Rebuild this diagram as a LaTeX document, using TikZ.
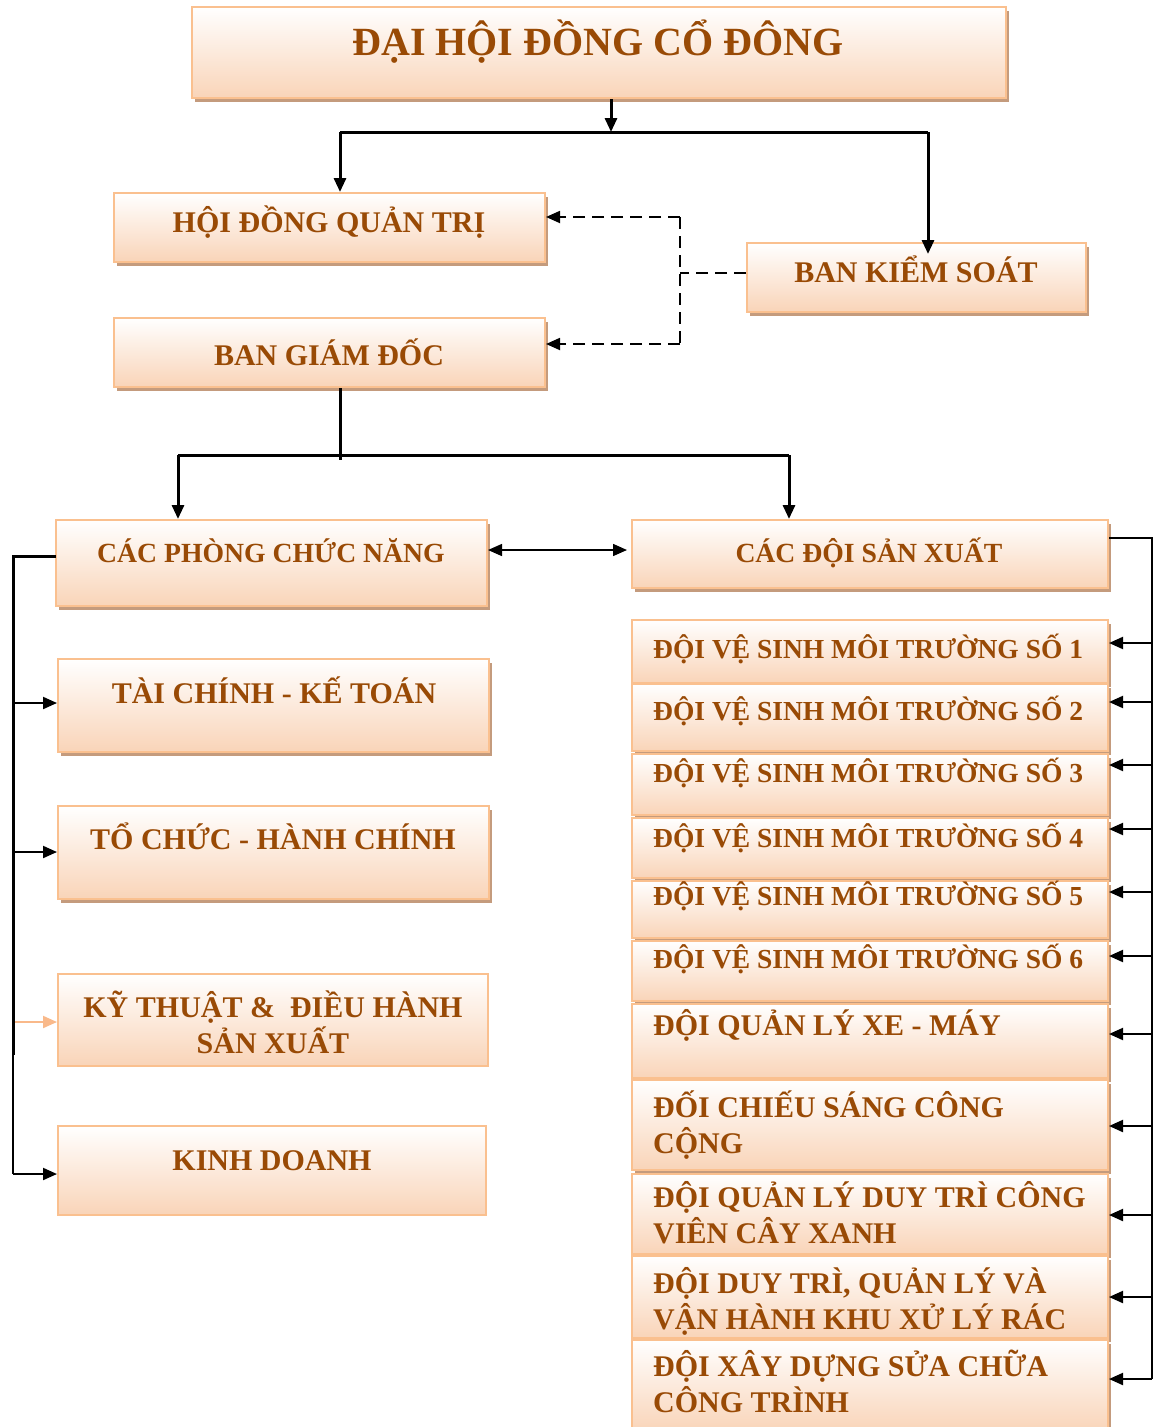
\documentclass[tikz,border=0pt]{standalone}
\usepackage{fontspec}
\setmainfont{Liberation Serif}
\usetikzlibrary{fit,shadows,arrows.meta}
\definecolor{bordc}{RGB}{250,192,143}
\definecolor{fillc}{RGB}{249,212,184}
\definecolor{shadc}{RGB}{196,155,125}
\definecolor{txtc}{RGB}{153,74,5}
\definecolor{peacharr}{RGB}{249,185,138}
\newcommand\obox[6][]{\node[boxst,#1,fit={(#3,#4) (#5,#6)}] (#2) {};}
\newcommand\fsA{\fontsize{40}{46}\selectfont}
\newcommand\fsB{\fontsize{30}{34}\selectfont}
\newcommand\fsD{\fontsize{27.7}{34}\selectfont}
\newcommand\fsC{\fontsize{27.5}{35}\selectfont}
\newcommand\fsE{\fontsize{30}{35}\selectfont}
\tikzset{
  boxst/.style={draw=bordc, line width=2pt, top color=white, bottom color=fillc, inner sep=0pt, rectangle},
  shd/.style={drop shadow={shadow xshift=3pt, shadow yshift=-4pt, fill=shadc, opacity=1}},
  txt/.style={text=txtc, font=\bfseries, inner sep=0pt},
  main/.style={line width=3pt, black},
  bus/.style={line width=2pt, black},
  dsh/.style={line width=1.8pt, black, dash pattern=on 12pt off 7pt},
  tip/.style={-{Triangle[length=14pt,width=12pt]}},
}
\begin{document}
\begin{tikzpicture}[x=1pt,y=-1pt]
\useasboundingbox (0,0) rectangle (1153,1427);
% boxes
\obox[shd]{dh}{192}{7}{1006}{98}
\obox[shd]{hq}{114}{193}{545}{262}
\obox[shd]{bks}{747}{243}{1086}{312}
\obox[shd]{bgd}{114}{318}{545}{387}
\obox[shd]{cpn}{56}{520}{487}{606}
\obox[shd]{cdsx}{632}{520}{1108}{588}
\obox[shd]{tc}{58}{659}{489}{752}
\obox[shd]{tch}{58}{806}{489}{899}
\obox{kt}{58}{974}{488}{1066}
\obox{kd}{58}{1126}{486}{1215}
\obox[shd]{r1}{632}{620}{1108}{683}
\obox[shd]{r2}{632}{684}{1108}{751}
\obox[shd]{r3}{632}{754}{1108}{815}
\obox[shd]{r4}{632}{818}{1108}{878}
\obox[shd]{r5}{632}{881}{1108}{938}
\obox[shd]{r6}{632}{941}{1108}{1001}
\obox[shd]{r7}{632}{1004}{1108}{1078}
\obox[shd]{r8}{632}{1080}{1108}{1170}
\obox[shd]{r9}{632}{1174}{1108}{1254}
\obox[shd]{r10}{632}{1256}{1108}{1338}
\obox[shd]{r11}{632}{1340}{1108}{1432}
% texts
\node[txt,anchor=base] (tdh) at (598,55) {\fsA ĐẠI HỘI ĐỒNG CỔ ĐÔNG};
\node[txt,anchor=base] (thq) at (329,232) {\fsB HỘI ĐỒNG QUẢN TRỊ};
\node[txt,anchor=base] (tbks) at (916,282) {\fsB BAN KIỂM SOÁT};
\node[txt,anchor=base] (tbgd) at (329,365) {\fsB BAN GIÁM ĐỐC};
\node[txt,anchor=base] (tcpn) at (271,562) {\fsD CÁC PHÒNG CHỨC NĂNG};
\node[txt,anchor=base] (tcdsx) at (869,562) {\fsD CÁC ĐỘI SẢN XUẤT};
\node[txt,anchor=base] (ttc) at (274,703) {\fsB TÀI CHÍNH - KẾ TOÁN};
\node[txt,anchor=base] (ttch) at (273,849) {\fsB TỔ CHỨC - HÀNH CHÍNH};
\node[txt,anchor=base] (tkt) at (273,1017) {\fsB\begin{tabular}[t]{@{}c@{}}KỸ THUẬT \&\ \ ĐIỀU HÀNH\\SẢN XUẤT\end{tabular}};
\node[txt,anchor=base] (tkd) at (272,1170) {\fsB KINH DOANH};
\node[txt,anchor=base west] (tr1) at (653,658) {\fsC ĐỘI VỆ SINH MÔI TRƯỜNG SỐ 1};
\node[txt,anchor=base west] (tr2) at (653,720) {\fsC ĐỘI VỆ SINH MÔI TRƯỜNG SỐ 2};
\node[txt,anchor=base west] (tr3) at (653,782) {\fsC ĐỘI VỆ SINH MÔI TRƯỜNG SỐ 3};
\node[txt,anchor=base west] (tr4) at (653,847) {\fsC ĐỘI VỆ SINH MÔI TRƯỜNG SỐ 4};
\node[txt,anchor=base west] (tr5) at (653,905) {\fsC ĐỘI VỆ SINH MÔI TRƯỜNG SỐ 5};
\node[txt,anchor=base west] (tr6) at (653,968) {\fsC ĐỘI VỆ SINH MÔI TRƯỜNG SỐ 6};
\node[txt,anchor=base west] (tr7) at (653,1035) {\fsE ĐỘI QUẢN LÝ XE - MÁY};
\node[txt,anchor=base west] (tr8) at (653,1117) {\fsE\begin{tabular}[t]{@{}l@{}}ĐỐI CHIẾU SÁNG CÔNG\\CỘNG\end{tabular}};
\node[txt,anchor=base west] (tr9) at (653,1207) {\fsE\begin{tabular}[t]{@{}l@{}}ĐỘI QUẢN LÝ DUY TRÌ CÔNG\\VIÊN CÂY XANH\end{tabular}};
\node[txt,anchor=base west] (tr10) at (653,1293) {\fsE\begin{tabular}[t]{@{}l@{}}ĐỘI DUY TRÌ, QUẢN LÝ VÀ\\VẬN HÀNH KHU XỬ LÝ RÁC\end{tabular}};
\node[txt,anchor=base west] (tr11) at (653,1376) {\fsE\begin{tabular}[t]{@{}l@{}}ĐỘI XÂY DỰNG SỬA CHỮA\\CÔNG TRÌNH\end{tabular}};
% top connectors
\coordinate (j1) at (611,132);
\coordinate (jl) at (340,132);
\coordinate (jr) at (928,132);
\draw[main,tip] (dh.south -| j1) -- (j1);
\draw[main] (jl) -- (jr);
\draw[main,tip] (jl) -- (jl |- hq.north);
\draw[main,tip] (jr) -- ([yshift=-12pt]jr |- bks.north);
% dashed
\coordinate (d0) at (680,273);
\coordinate (d1) at (680,217);
\coordinate (d2) at (680,344);
\draw[dsh] (d0 -| bks.west) -- (d0);
\draw[dsh] (d1) -- (d2);
\draw[dsh,tip] (d1) -- (d1 -| hq.east);
\draw[dsh,tip] (d2) -- (d2 -| bgd.east);
% BGD to lower level
\coordinate (k) at (340,460);
\coordinate (kl) at (178,455);
\coordinate (kr) at (789,455);
\draw[main] (bgd.south -| k) -- (k);
\draw[main] (kl) -- (kr);
\draw[main,tip] (kl) -- (kl |- cpn.north);
\draw[main,tip] (kr) -- (kr |- cdsx.north);
% double arrow
\coordinate (m) at (560,550);
\draw[line width=1.5pt,{Triangle[length=14pt,width=12pt]}-{Triangle[length=14pt,width=12pt]}] (m -| cpn.east) -- ([xshift=-4pt]m -| cdsx.west);
% left bus
\coordinate (L0) at (13,556);
\coordinate (L1) at (13,1055);
\coordinate (L2) at (13,1174);
\coordinate (La) at (13,703);
\coordinate (Lb) at (13,852);
\coordinate (Lc) at (13,1022);
\draw[main] ([xshift=1pt]L0 -| cpn.west) -- (L0) -- (L1);
\draw[bus] (L1) -- (L2);
\draw[bus,tip] (L2) -- (L2 -| kd.west);
\draw[bus,tip] (La) -- (La -| tc.west);
\draw[bus,tip] (Lb) -- (Lb -| tch.west);
\draw[bus,draw=peacharr,-{Triangle[length=14pt,width=12pt,color=peacharr]}] ([xshift=2pt]Lc) -- (Lc -| kt.west);
% right bus
\coordinate (R0) at (1152,538);
\coordinate (Rz) at (1152,1379);
\draw[bus] (R0 -| cdsx.east) -- (R0) -- (Rz);
\foreach \b/\yy in {r1/643,r2/702,r3/765,r4/829,r5/892,r6/956,r7/1034,r8/1126,r9/1215,r10/1297,r11/1379}{
  \coordinate (R\b) at (1152,\yy);
  \draw[bus,tip] (R\b) -- (R\b -| \b.east);
}
\end{tikzpicture}
\end{document}
